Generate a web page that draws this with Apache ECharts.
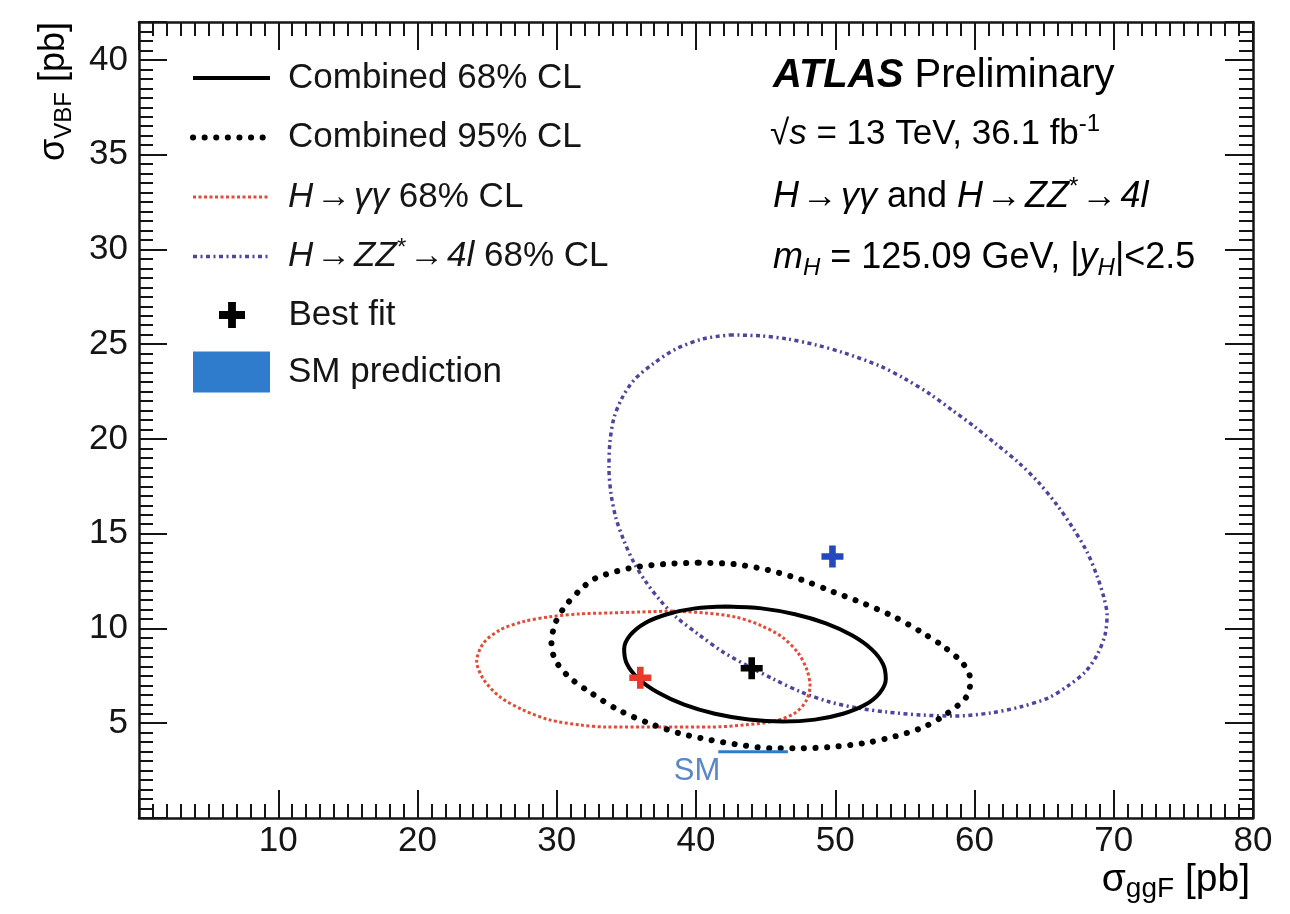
<!DOCTYPE html>
<html>
<head>
<meta charset="utf-8">
<script src="https://cdn.jsdelivr.net/npm/echarts@6/dist/echarts.min.js"></script>
<style>
  html, body { margin: 0; padding: 0; background: #ffffff; }
  #chart { width: 1290px; height: 914px; }
</style>
</head>
<body>
<div id="chart"></div>
<script>
// ---- Axis ranges and tick steps (pb) ----
const xRange = [0, 80];
const yRange = [0, 42];
const xMajorStep = 10, xMinorStep = 1;
const yMajorStep = 5, yMinorStep = 0.5;

// ---- Likelihood contours, points as [sigma_ggF, sigma_VBF] in pb ----
const combined68 = [
  [42.25, 11.16], [44.70, 11.06], [47.11, 10.75], [49.33, 10.27], [51.20, 9.64], [52.60, 8.91],
  [53.43, 8.12], [53.63, 7.34], [53.19, 6.60], [52.14, 5.97], [50.56, 5.50], [48.54, 5.19],
  [46.23, 5.09], [43.78, 5.20], [41.36, 5.50], [39.15, 5.98], [37.27, 6.62], [35.87, 7.35],
  [35.04, 8.13], [34.84, 8.92], [35.28, 9.65], [36.33, 10.28], [37.92, 10.75], [39.94, 11.06]
];
const combined95 = [
  [40.20, 13.47], [42.67, 13.40], [45.14, 13.09], [47.62, 12.56], [49.82, 11.94], [52.01, 11.33],
  [54.21, 10.62], [56.14, 9.83], [57.79, 9.04], [59.16, 8.16], [59.71, 7.28], [59.43, 6.40],
  [58.06, 5.53], [56.42, 4.82], [54.21, 4.29], [52.01, 3.94], [49.82, 3.76], [47.62, 3.68],
  [45.42, 3.68], [43.22, 3.85], [41.02, 4.12], [38.82, 4.47], [36.62, 5.00], [34.43, 5.70],
  [32.50, 6.58], [30.85, 7.46], [29.89, 8.34], [29.62, 9.22], [29.89, 10.27], [30.58, 11.15],
  [31.68, 12.03], [32.78, 12.65], [35.25, 13.18], [37.72, 13.40]
];
const hyy68 = [
  [38.28, 10.92], [40.65, 10.82], [42.80, 10.61], [44.60, 10.18], [46.18, 9.55], [47.33, 8.71],
  [47.97, 7.81], [48.19, 6.97], [47.90, 6.17], [47.11, 5.54], [45.67, 5.12], [43.52, 4.91],
  [41.01, 4.80], [38.49, 4.80], [35.98, 4.80], [33.61, 4.80], [31.67, 4.91], [29.52, 5.17],
  [27.58, 5.70], [25.92, 6.39], [24.78, 7.28], [24.25, 8.25], [24.73, 9.22], [25.92, 9.92],
  [27.60, 10.36], [29.52, 10.62], [31.67, 10.77], [33.82, 10.82], [35.98, 10.87]
];
const hzz68 = [
  [42.44, 25.49], [44.60, 25.44], [46.54, 25.28], [48.62, 24.96], [50.63, 24.54], [53.21, 23.85],
  [55.01, 23.17], [56.80, 22.37], [58.38, 21.53], [60.04, 20.63], [61.54, 19.74], [63.20, 18.73],
  [64.63, 17.68], [65.92, 16.52], [67.07, 15.30], [68.08, 14.04], [68.80, 12.77], [69.30, 11.61],
  [69.52, 10.71], [69.37, 9.66], [68.80, 8.60], [67.94, 7.70], [66.71, 6.97], [65.28, 6.33],
  [63.27, 5.86], [61.11, 5.54], [58.60, 5.38], [56.09, 5.44], [53.72, 5.59], [51.63, 5.80],
  [49.62, 6.12], [47.54, 6.65], [45.53, 7.34], [43.73, 8.02], [41.94, 8.76], [40.14, 9.71],
  [38.56, 10.61], [37.41, 11.50], [36.41, 12.45], [35.55, 13.46], [34.83, 14.62], [34.25, 15.83],
  [33.90, 17.10], [33.75, 18.47], [33.82, 19.84], [34.11, 21.11], [34.69, 22.16], [35.55, 23.11],
  [36.91, 23.96], [38.56, 24.75], [40.50, 25.28]
];

// ---- Best-fit points ----
const bestFitCombined = [[44.0, 7.9]];
const bestFitYY = [[36.0, 7.4]];
const bestFitZZ = [[49.8, 13.8]];

// ---- SM prediction: [ggF low, ggF high, VBF low, VBF high] ----
const smPrediction = [[41.6, 46.6, 3.42, 3.58]];

// ---- Legend entries ----
const ARROW = '\u200A→\u200A';
const legendLines = ['Combined 68% CL', 'Combined 95% CL', 'H→γγ 68% CL', 'H→ZZ*→4l 68% CL'];
const legendLineLabels = {
  'Combined 68% CL': '{n|Combined 68% CL}',
  'Combined 95% CL': '{n|Combined 95% CL}',
  'H→γγ 68% CL': '{i|H}{n|' + ARROW + '}{i|γγ}{n| 68% CL}',
  'H→ZZ*→4l 68% CL': '{i|H}{n|' + ARROW + '}{i|ZZ}{sup|*}{n|' + ARROW + '}{i|4l}{n| 68% CL}'
};

const FONT = '"Liberation Sans", Arial, Helvetica, sans-serif';
const INK = '#151515';
const SM_BLUE = '#2f7ccc';

const closeLoop = pts => pts.concat([pts[0]]);

function richSet(size, lh, subScale) {
  const base = { fontFamily: FONT, fontSize: size, color: INK, lineHeight: lh };
  const small = Math.round(size * (subScale || 0.68));
  return {
    n: Object.assign({}, base),
    i: Object.assign({}, base, { fontStyle: 'italic' }),
    b: Object.assign({}, base, { fontStyle: 'italic', fontWeight: 'bold' }),
    sub: Object.assign({}, base, { fontSize: small, lineHeight: Math.round(lh / 2), verticalAlign: 'bottom' }),
    subi: Object.assign({}, base, { fontSize: small, fontStyle: 'italic', lineHeight: Math.round(lh / 2), verticalAlign: 'bottom' }),
    sup: Object.assign({}, base, { fontSize: small, lineHeight: Math.round(lh / 2), verticalAlign: 'top' })
  };
}

// Frame axes: a labelled major axis plus an unlabelled minor-tick axis on each side
function xAxisDef(position, step, tickLen, withLine, withLabels) {
  return {
    type: 'value', position: position, min: xRange[0], max: xRange[1], interval: step,
    axisLine: { show: withLine, onZero: false, lineStyle: { color: INK, width: 2.5 } },
    axisTick: { show: true, inside: true, length: tickLen, lineStyle: { color: INK, width: 2 } },
    axisLabel: {
      show: withLabels, margin: 6, color: INK, fontFamily: FONT, fontSize: 35,
      formatter: v => (v === 0 ? '' : String(v))
    },
    splitLine: { show: false }
  };
}
function yAxisDef(position, step, tickLen, withLine, withLabels) {
  return {
    type: 'value', position: position, min: yRange[0], max: yRange[1], interval: step,
    axisLine: { show: withLine, onZero: false, lineStyle: { color: INK, width: 2.5 } },
    axisTick: { show: true, inside: true, length: tickLen, lineStyle: { color: INK, width: 2 } },
    axisLabel: {
      show: withLabels, margin: 11, color: INK, fontFamily: FONT, fontSize: 35,
      formatter: v => ((v === 0 || v % yMajorStep !== 0) ? '' : String(v))
    },
    splitLine: { show: false }
  };
}

function contourSeries(name, data, lineStyle, z) {
  return {
    name: name, type: 'line', data: closeLoop(data), xAxisIndex: 0, yAxisIndex: 0,
    symbol: 'none', smooth: 0.3, z: z, silent: true,
    lineStyle: lineStyle, itemStyle: { color: lineStyle.color }
  };
}

const CROSS = 'path://M7,0H13V7H20V13H13V20H7V13H0V7H7Z';
const legendText = { fontFamily: FONT, fontSize: 35, color: INK, lineHeight: 40, padding: [0, 0, 0, 13], rich: richSet(35, 40) };

const chart = echarts.init(document.getElementById('chart'), null, { renderer: 'canvas' });

chart.setOption({
  animation: false,
  backgroundColor: '#ffffff',
  textStyle: { fontFamily: FONT },
  grid: { left: 139, right: 37, top: 22, bottom: 96, containLabel: false },
  xAxis: [
    xAxisDef('bottom', xMajorStep, 28, true, true),
    xAxisDef('bottom', xMinorStep, 14, false, false),
    xAxisDef('top', xMajorStep, 28, true, false),
    xAxisDef('top', xMinorStep, 14, false, false)
  ],
  yAxis: [
    yAxisDef('left', yMajorStep, 28, true, true),
    yAxisDef('left', yMinorStep, 14, false, false),
    yAxisDef('right', yMajorStep, 28, true, false),
    yAxisDef('right', yMinorStep, 14, false, false)
  ],
  legend: [
    {
      data: legendLines, orient: 'vertical', left: 190, top: 58, padding: 0,
      itemWidth: 77, itemHeight: 14, itemGap: 19.5, selectedMode: false,
      itemStyle: { opacity: 0 },
      lineStyle: { width: 'inherit', type: 'inherit', cap: 'inherit' },
      formatter: n => legendLineLabels[n],
      textStyle: legendText
    },
    {
      data: ['Best fit'], orient: 'vertical', left: 219, top: 295, padding: 0,
      itemWidth: 77, itemHeight: 26, selectedMode: false, symbolKeepAspect: true,
      formatter: n => '{n|' + n + '}',
      textStyle: legendText
    },
    {
      data: [{ name: 'SM prediction', icon: 'rect' }], orient: 'vertical', left: 193, top: 351.5, padding: 0,
      itemWidth: 77, itemHeight: 41, selectedMode: false,
      formatter: n => '{n|' + n + '}',
      textStyle: legendText
    }
  ],
  series: [
    contourSeries('H→ZZ*→4l 68% CL', hzz68, { color: '#4d43a0', width: 3.5, type: [4, 3.5, 2, 3.5] }, 2),
    contourSeries('H→γγ 68% CL', hyy68, { color: '#e64a36', width: 3, type: [3, 2.5] }, 3),
    contourSeries('Combined 95% CL', combined95, { color: '#000000', width: 6, type: [0.1, 11.5], cap: 'round' }, 4),
    contourSeries('Combined 68% CL', combined68, { color: '#000000', width: 4, type: 'solid' }, 5),
    {
      name: 'SM prediction', type: 'custom', z: 6, silent: true,
      xAxisIndex: 0, yAxisIndex: 0,
      itemStyle: { color: SM_BLUE },
      encode: { x: [0, 1], y: [2, 3] },
      data: smPrediction,
      renderItem: function (params, api) {
        const topLeft = api.coord([api.value(0), api.value(3)]);
        const bottomRight = api.coord([api.value(1), api.value(2)]);
        return {
          type: 'group',
          children: [
            {
              type: 'rect',
              shape: { x: topLeft[0], y: topLeft[1], width: bottomRight[0] - topLeft[0], height: Math.max(2, bottomRight[1] - topLeft[1]) },
              style: { fill: SM_BLUE }
            },
            {
              type: 'text', x: topLeft[0] + 2, y: bottomRight[1] + 18,
              style: { text: 'SM', fill: '#5a88c6', font: '31px ' + FONT, align: 'right', verticalAlign: 'middle' }
            }
          ]
        };
      }
    },
    {
      name: 'Best fit', type: 'scatter', data: bestFitCombined, z: 8, silent: true,
      symbol: CROSS, symbolSize: 22, symbolKeepAspect: true, itemStyle: { color: '#000000', opacity: 1 }
    },
    {
      name: 'H→γγ best fit', type: 'scatter', data: bestFitYY, z: 7, silent: true,
      symbol: CROSS, symbolSize: 22, itemStyle: { color: '#e8392a', opacity: 1 }
    },
    {
      name: 'H→ZZ*→4l best fit', type: 'scatter', data: bestFitZZ, z: 7, silent: true,
      symbol: CROSS, symbolSize: 22, itemStyle: { color: '#2448c0', opacity: 1 }
    }
  ],
  graphic: [
    {
      type: 'text', x: 773, y: 76, silent: true,
      style: { text: '{b|ATLAS}{n| Preliminary}', rich: richSet(40, 44), align: 'left', verticalAlign: 'middle' }
    },
    {
      type: 'text', x: 770, y: 134, silent: true,
      style: { text: '{n|√}{i|s}{n| = 13 TeV, 36.1 fb}{sup|-1}', rich: richSet(35, 44), align: 'left', verticalAlign: 'middle' }
    },
    {
      type: 'text', x: 773, y: 197, silent: true,
      style: { text: '{i|H}{n|' + ARROW + '}{i|γγ}{n| and }{i|H}{n|' + ARROW + '}{i|ZZ}{sup|*}{n|' + ARROW + '}{i|4l}', rich: richSet(36, 44), align: 'left', verticalAlign: 'middle' }
    },
    {
      type: 'text', x: 773, y: 258, silent: true,
      style: { text: '{i|m}{subi|H}{n| = 125.09 GeV, |}{i|y}{subi|H}{n||<2.5}', rich: richSet(36, 44), align: 'left', verticalAlign: 'middle' }
    },
    {
      type: 'text', x: 1250, y: 880, silent: true,
      style: { text: '{n|σ}{sub|ggF}{n| [pb]}', rich: richSet(39, 46, 0.72), align: 'right', verticalAlign: 'middle' }
    },
    {
      type: 'text', x: 54, y: 22, rotation: Math.PI / 2, silent: true,
      style: { text: '{n|σ}{sub|VBF}{n| [pb]}', rich: richSet(36, 44), align: 'right', verticalAlign: 'middle' }
    }
  ]
});
</script>
</body>
</html>
